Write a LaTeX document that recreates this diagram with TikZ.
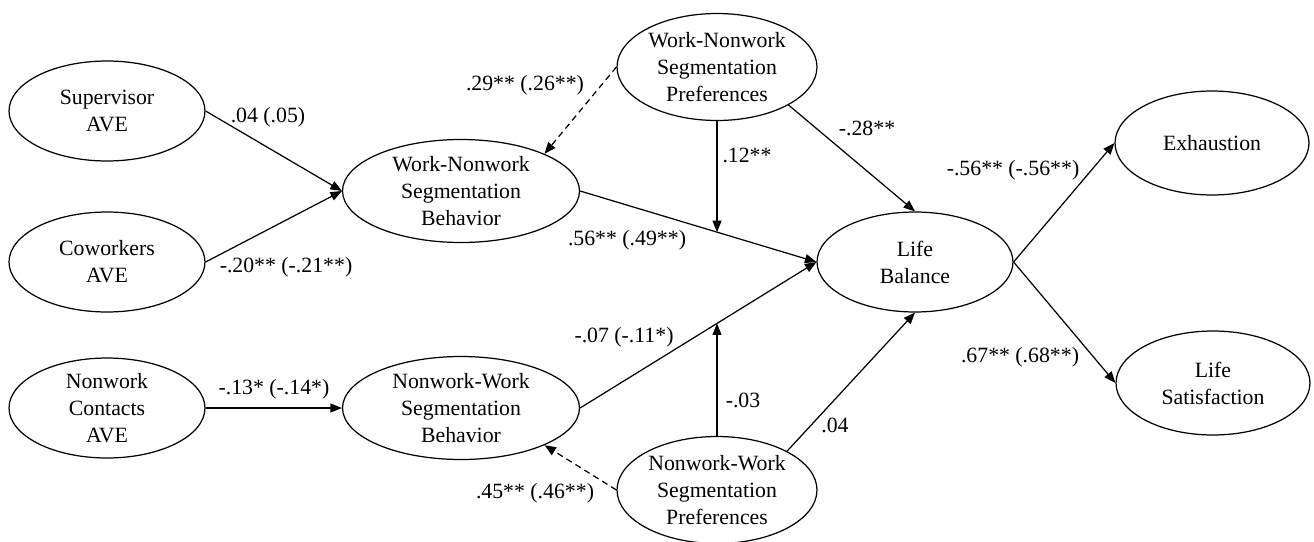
\documentclass[tikz,border=0pt]{standalone}
\usepackage{fontspec}
\setmainfont{Liberation Serif}
\usetikzlibrary{shapes.geometric,arrows.meta,calc}
\begin{document}
\begin{tikzpicture}[x=0.02cm, y=-0.02cm,
  font=\fontsize{12.4}{15.3}\selectfont,
  latent/.style={ellipse, draw, line width=0.7pt, align=center, inner sep=0pt,
    minimum width=3.92cm, minimum height=2cm},
  behavior/.style={latent, minimum width=4.74cm, minimum height=2.06cm},
  preference/.style={latent, minimum width=4cm, minimum height=2.14cm},
  outcome/.style={latent, minimum width=3.88cm, minimum height=2.08cm},
  effect/.style={-{Triangle[length=2.3mm, width=1.8mm]}, line width=0.7pt},
  weak/.style={effect, dash pattern=on 3.5pt off 2.5pt}]
  \useasboundingbox (0,0) rectangle (1314,541);
  % antecedents
  \node[latent] (sup) at (107,111) {Supervisor\\AVE};
  \node[latent] (cow) at (107,262) {Coworkers\\AVE};
  \node[latent] (con) at (107,408) {Nonwork\\Contacts\\AVE};
  % segmentation
  \node[behavior] (wnsb) at (461,191) {Work-Nonwork\\Segmentation\\Behavior};
  \node[behavior] (nwsb) at (461,408) {Nonwork-Work\\Segmentation\\Behavior};
  \node[preference] (wnsp) at (717,67) {Work-Nonwork\\Segmentation\\Preferences};
  \node[preference] (nwsp) at (717,490) {Nonwork-Work\\Segmentation\\Preferences};
  % outcomes
  \node[latent] (lb) at (915,262) {Life\\Balance};
  \node[outcome] (exh) at (1212,143) {Exhaustion};
  \node[outcome] (sat) at (1213,383) {Life\\Satisfaction};

  \draw[effect] (sup.east) -- (wnsb.west);
  \draw[effect] (cow.east) -- (wnsb.west);
  \draw[effect] (con.east) -- (nwsb.west);
  \draw[weak] (wnsp.west) -- (wnsb.24);
  \draw[weak] (nwsp.west) -- (nwsb.-24);
  \draw[effect] (wnsb.east) -- (lb.west);
  \draw[effect] (nwsb.east) -- (lb.west);
  \coordinate (m1) at ($(wnsb.east)!0.579!(lb.west)$);
  \coordinate (m2) at ($(nwsb.east)!0.579!(lb.west)$);
  \draw[effect] (wnsp.south) -- (wnsp.south |- m1);
  \draw[effect] (nwsp.north) -- (nwsp.north |- m2);
  \draw[effect] (wnsp.-28) -- (lb.north);
  \draw[effect] (nwsp.29) -- (lb.south);
  \draw[effect] (lb.east) -- (exh.west);
  \draw[effect] (lb.east) -- (sat.west);

  % coefficients
  \node (c1) at (268,117) {.04 (.05)};
  \node (c2) at (286,267) {-.20** (-.21**)};
  \node (c3) at (274,389) {-.13* (-.14*)};
  \node (c4) at (525,85) {.29** (.26**)};
  \node (c5) at (747,155) {.12**};
  \node (c6) at (867,128) {-.28**};
  \node (c7) at (627,240) {.56** (.49**)};
  \node (c8) at (624,337) {-.07 (-.11*)};
  \node (c9) at (743,400) {-.03};
  \node (c10) at (835,425) {.04};
  \node (c11) at (535,493) {.45** (.46**)};
  \node (c12) at (1013,170) {-.56** (-.56**)};
  \node (c13) at (1020,357) {.67** (.68**)};
\end{tikzpicture}
\end{document}
